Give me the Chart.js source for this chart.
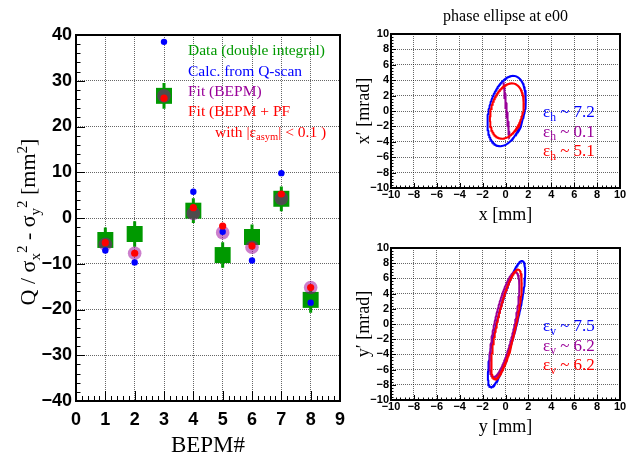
<!DOCTYPE html>
<html><head><meta charset="utf-8">
<script src="https://cdn.jsdelivr.net/npm/chart.js@4.4.1/dist/chart.umd.min.js"></script>
<style>
html,body{margin:0;padding:0;background:#fff;}
body{width:635px;height:456px;position:relative;overflow:hidden;}
.box{position:absolute;}
canvas{display:block;}
</style></head><body>
<div class="box" style="left:0;top:0;width:360px;height:456px"><canvas id="cQ" width="360" height="456"></canvas></div>
<div class="box" style="left:340px;top:0;width:295px;height:240px"><canvas id="cH" width="295" height="240"></canvas></div>
<div class="box" style="left:340px;top:230px;width:295px;height:226px"><canvas id="cV" width="295" height="226"></canvas></div>
<script>
// ---------------- data ----------------
const bepm = [1, 2, 3, 4, 5, 6, 7, 8];
const dataDoubleIntegral = [-4.8, -3.5, 26.7, 1.6, -8.1, -4.15, 4.2, -17.9];
const dataError = [2.7, 2.8, 2.8, 2.7, 2.8, 2.75, 2.7, 2.8];
const calcQscan = [-7.1, -9.7, 38.5, 5.75, -3.0, -9.3, 9.8, -18.5];
const fitBEPM = [-5.75, -7.7, 26.7, 1.0, -3.2, -6.4, 4.3, -15.2];
const fitBEPMPF = [-5.4, -7.7, 26.2, 2.25, -1.75, -6.1, 5.25, -15.2];
const bepmTicks = [0, 1, 2, 3, 4, 5, 6, 7, 8, 9];
const qTicks = [-40, -30, -20, -10, 0, 10, 20, 30, 40];
const phaseTicks = [-10, -8, -6, -4, -2, 0, 2, 4, 6, 8, 10];

// horizontal phase ellipses: [Calc (blue), Fit BEPM (purple), Fit BEPM+PF (red)]
const emitH = [7.2, 0.1, 5.1];
const alphaH = [-0.36, 9.33, -0.3];
const betaH = [0.39, 0.676, 0.43];
const centerXH = [0.1, 0.09, 0.12];
const centerXpH = [0.0, 0.13, 0.0];
// vertical phase ellipses
const emitV = [7.5, 6.2, 6.2];
const alphaV = [-1.5, -1.05, -1.18];
const betaV = [0.354, 0.273, 0.285];
const centerYV = [0.09, -0.09, 0.09];
const centerYpV = [0.0, -0.06, -0.04];

// ---------------- styles ----------------
const SANS = "'Liberation Sans', Arial, sans-serif";
const SERIF = "'Liberation Serif', 'DejaVu Serif', serif";
const GREEN = '#009900', BLUE = '#0000ff', PURPLE = '#990099', RED = '#ff0000';
const GRID = 'rgba(0,0,0,0.6)';
const fmt = v => v < 0 ? '\u2212' + Math.abs(v) : String(v);

function richText(ctx, segs, x, y, size, color, align) {
  let total = 0;
  const parts = segs.map(([t, m]) => {
    const fs = m ? size * 0.68 : size;
    ctx.font = fs + 'px ' + SERIF;
    const w = ctx.measureText(t).width;
    total += w;
    return {t, m, fs, w};
  });
  let cx = align === 'center' ? x - total / 2 : x;
  ctx.fillStyle = color;
  ctx.textAlign = 'left';
  ctx.textBaseline = 'alphabetic';
  for (const p of parts) {
    ctx.font = p.fs + 'px ' + SERIF;
    const dy = p.m === 1 ? size * 0.22 : (p.m === 2 ? -size * 0.38 : 0);
    ctx.fillText(p.t, cx, y + dy);
    cx += p.w;
  }
  return total;
}

function rootPlugin(spec) {
  return {
    id: 'root' + spec.id,
    afterDraw(chart) {
      const {ctx, chartArea: a, scales: {x, y}} = chart;
      ctx.save();
      ctx.strokeStyle = '#000';
      ctx.lineWidth = 1;
      ctx.beginPath();
      const nx = Math.round((x.max - x.min) / spec.xMinor);
      for (let i = 0; i <= nx; i++) {
        const v = x.min + i * spec.xMinor;
        const p = Math.round(x.getPixelForValue(v)) + 0.5;
        const r = v / spec.xMajor;
        const L = Math.abs(r - Math.round(r)) < 1e-6 ? spec.xMajLen : spec.xMinLen;
        ctx.moveTo(p, a.bottom); ctx.lineTo(p, a.bottom - L);
      }
      const ny = Math.round((y.max - y.min) / spec.yMinor);
      for (let i = 0; i <= ny; i++) {
        const v = y.min + i * spec.yMinor;
        const p = Math.round(y.getPixelForValue(v)) + 0.5;
        const r = v / spec.yMajor;
        const L = Math.abs(r - Math.round(r)) < 1e-6 ? spec.yMajLen : spec.yMinLen;
        ctx.moveTo(a.left, p); ctx.lineTo(a.left + L, p);
      }
      ctx.stroke();
      ctx.lineWidth = 2;
      ctx.strokeRect(a.left, a.top, a.right - a.left, a.bottom - a.top);
      spec.texts(ctx, chart);
      ctx.restore();
    }
  };
}

function axisX(min, max, ticksArr, h, fontSize, pad, gridOn) {
  return {
    type: 'linear', min, max, offset: false,
    afterFit(s) { s.height = h; },
    afterBuildTicks(s) { s.ticks = ticksArr.map(v => ({value: v})); },
    ticks: {font: {family: SANS, size: fontSize, weight: 'bold'}, color: '#000', padding: pad,
            maxRotation: 0, autoSkip: false, callback: fmt},
    grid: {display: gridOn, color: GRID, lineWidth: 1, drawTicks: false},
    border: {display: false, dash: [1, 1]}
  };
}
function axisY(min, max, ticksArr, w, fontSize, pad) {
  return {
    type: 'linear', min, max,
    afterFit(s) { s.width = w; },
    afterBuildTicks(s) { s.ticks = ticksArr.map(v => ({value: v})); },
    ticks: {font: {family: SANS, size: fontSize, weight: 'bold'}, color: '#000', padding: pad,
            autoSkip: false, callback: fmt},
    grid: {color: GRID, lineWidth: 1, drawTicks: false},
    border: {display: false, dash: [1, 1]}
  };
}
const baseOpts = {responsive: false, animation: false, events: [], devicePixelRatio: 1,
  plugins: {legend: {display: false}, tooltip: {enabled: false}, title: {display: false}}};

// ---------------- left chart ----------------
const pts = arr => bepm.map((x, i) => ({x, y: arr[i]}));
const errSegs = [];
bepm.forEach((x, i) => {
  errSegs.push({x, y: dataDoubleIntegral[i] - dataError[i]});
  errSegs.push({x, y: dataDoubleIntegral[i] + dataError[i]});
  errSegs.push({x, y: null});
});

new Chart(document.getElementById('cQ'), {
  type: 'scatter',
  data: {datasets: [
    {label: 'Fit (BEPM + PF)', data: pts(fitBEPMPF), pointStyle: 'circle', pointRadius: 3.6, backgroundColor: RED, borderWidth: 0},
    {label: 'Calc. from Q-scan', data: pts(calcQscan), pointStyle: 'circle', pointRadius: 3.2, backgroundColor: BLUE, borderWidth: 0},
    {label: 'Fit (BEPM)', data: pts(fitBEPM), pointStyle: 'circle', pointRadius: 6.8, backgroundColor: 'rgba(153,0,153,0.5)', borderWidth: 0},
    {label: 'Data (double integral)', data: pts(dataDoubleIntegral), pointStyle: 'rect', pointRadius: 11.3, backgroundColor: GREEN, borderWidth: 0},
    {label: 'error', data: errSegs, showLine: true, spanGaps: false, borderColor: GREEN, borderWidth: 3, pointRadius: 0}
  ]},
  options: Object.assign({}, baseOpts, {
    layout: {padding: {top: 35, right: 20, left: 0, bottom: 0}},
    scales: {
      x: axisX(0, 9, bepmTicks, 55, 18, 8, true),
      y: axisY(-40, 40, qTicks, 76, 18, 4)
    }
  }),
  plugins: [rootPlugin({id: 'Q', xMinor: 0.2, xMajor: 1, xMajLen: 10, xMinLen: 5,
    yMinor: 2, yMajor: 10, yMajLen: 9, yMinLen: 4.5,
    texts(ctx, chart) {
      const a = chart.chartArea;
      richText(ctx, [['Data (double integral)', 0]], 188, 55, 15.5, GREEN);
      richText(ctx, [['Calc. from Q-scan', 0]], 188, 75.5, 15.5, BLUE);
      richText(ctx, [['Fit (BEPM)', 0]], 188, 95.5, 15.5, PURPLE);
      richText(ctx, [['Fit (BEPM + PF', 0]], 188, 115.5, 15.5, RED);
      richText(ctx, [['with |\u03b5', 0], ['asym', 1], ['| < 0.1 )', 0]], 215, 137, 15.5, RED);
      richText(ctx, [['BEPM#', 0]], (a.left + a.right) / 2, 452, 23, '#000', 'center');
      ctx.save();
      ctx.translate(35, 222);
      ctx.rotate(-Math.PI / 2);
      richText(ctx, [['Q / \u03c3', 0], ['x', 1], ['2', 2], [' - \u03c3', 0], ['y', 1], ['2', 2], [' [mm', 0], ['2', 2], [']', 0]], 0, 0, 22, '#000', 'center');
      ctx.restore();
    }})]
});

// ---------------- phase ellipses ----------------
function ellipse(eps, alpha, beta, c0, cp0) {
  const out = [];
  const a = Math.sqrt(eps * beta), b = Math.sqrt(eps / beta);
  const N = 240;
  for (let i = 0; i <= N; i++) {
    const t = i / N * 2 * Math.PI;
    out.push({x: c0 + a * Math.cos(t), y: cp0 - b * (alpha * Math.cos(t) + Math.sin(t))});
  }
  return out;
}
const colorsPE = [BLUE, PURPLE, RED];
function phaseChart(id, emit, alpha, beta, c0, cp0, padTop, xH, xTitle, yTitle, sub, titleText) {
  const order = [2, 1, 0];
  const ds = order.map(k => ({
    data: ellipse(emit[k], alpha[k], beta[k], c0[k], cp0[k]), showLine: true, pointRadius: 0,
    borderColor: colorsPE[k], borderWidth: 2, fill: false, tension: 0
  }));
  new Chart(document.getElementById(id), {
    type: 'scatter',
    data: {datasets: ds},
    options: Object.assign({}, baseOpts, {
      layout: {padding: {top: padTop, right: 15, left: 0, bottom: 0}},
      scales: {x: axisX(-10, 10, phaseTicks, xH, 11, 0, true), y: axisY(-10, 10, phaseTicks, 51, 11, 2)}
    }),
    plugins: [rootPlugin({id: id, xMinor: 0.4, xMajor: 2, xMajLen: 5, xMinLen: 2.5,
      yMinor: 0.4, yMajor: 2, yMajLen: 5, yMinLen: 2.5,
      texts(ctx, chart) {
        const a = chart.chartArea;
        const cx = (a.left + a.right) / 2;
        if (titleText) richText(ctx, [[titleText, 0]], cx, 21, 16, '#000', 'center');
        richText(ctx, [[xTitle, 0]], cx, a.bottom + 32, 18, '#000', 'center');
        ctx.save();
        ctx.translate(29, (a.top + a.bottom) / 2);
        ctx.rotate(-Math.PI / 2);
        richText(ctx, [[yTitle, 0]], 0, 0, 18, '#000', 'center');
        ctx.restore();
        const base = a.top + 83;
        for (let k = 0; k < 3; k++) {
          richText(ctx, [['\u03b5', 0], [sub, 1], [' ~ ' + emit[k].toFixed(1), 0]], 203, base + k * 19.5, 17, colorsPE[k]);
        }
      }})]
  });
}
phaseChart('cH', emitH, alphaH, betaH, centerXH, centerXpH, 34, 52, 'x [mm]', 'x\u2032 [mrad]', 'h', 'phase ellipse at e00');
phaseChart('cV', emitV, alphaV, betaV, centerYV, centerYpV, 18, 56, 'y [mm]', 'y\u2032 [mrad]', 'v', null);
</script>
</body></html>
